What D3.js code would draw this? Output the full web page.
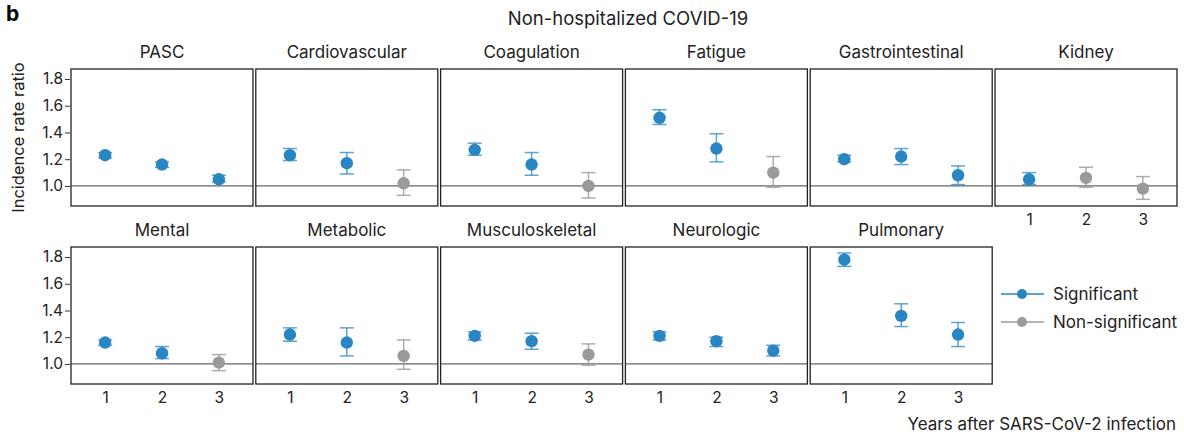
<!DOCTYPE html>
<html>
<head>
<meta charset="utf-8">
<script src="https://cdn.jsdelivr.net/npm/d3@7"></script>
<style>
  html, body { margin: 0; padding: 0; background: #fff; }
  svg { display: block; }
  text { font-family: Inter, "Noto Sans", sans-serif; fill: #222; }
</style>
</head>
<body>
<svg id="chart" width="1184" height="435"></svg>
<script>
const categories = ["PASC", "Cardiovascular", "Coagulation", "Fatigue", "Gastrointestinal", "Kidney",
                    "Mental", "Metabolic", "Musculoskeletal", "Neurologic", "Pulmonary"];
const years = [1, 2, 3];
const irr = [
  [1.23, 1.16, 1.05],
  [1.23, 1.17, 1.02],
  [1.27, 1.16, 1.00],
  [1.51, 1.28, 1.10],
  [1.20, 1.22, 1.08],
  [1.05, 1.06, 0.98],
  [1.16, 1.08, 1.01],
  [1.22, 1.16, 1.06],
  [1.21, 1.17, 1.07],
  [1.21, 1.17, 1.10],
  [1.78, 1.36, 1.22]
];
const lower = [
  [1.21, 1.14, 1.03],
  [1.19, 1.09, 0.93],
  [1.23, 1.08, 0.91],
  [1.46, 1.18, 0.99],
  [1.18, 1.16, 1.01],
  [1.01, 0.99, 0.90],
  [1.14, 1.04, 0.95],
  [1.17, 1.06, 0.96],
  [1.18, 1.11, 0.99],
  [1.18, 1.13, 1.06],
  [1.73, 1.28, 1.13]
];
const upper = [
  [1.25, 1.18, 1.08],
  [1.28, 1.25, 1.12],
  [1.32, 1.25, 1.10],
  [1.57, 1.39, 1.22],
  [1.23, 1.28, 1.15],
  [1.10, 1.14, 1.07],
  [1.18, 1.13, 1.07],
  [1.27, 1.27, 1.18],
  [1.24, 1.23, 1.15],
  [1.24, 1.20, 1.14],
  [1.83, 1.45, 1.31]
];
const significant = [
  [true, true, true],
  [true, true, false],
  [true, true, false],
  [true, true, false],
  [true, true, true],
  [true, false, false],
  [true, true, false],
  [true, true, false],
  [true, true, false],
  [true, true, true],
  [true, true, true]
];
const yTicks = [1.0, 1.2, 1.4, 1.6, 1.8];
const legendLabels = ["Significant", "Non-significant"];

const BLUE = "#2a86c2", GRAY = "#9a9a9a";
const FONT = "Inter, 'Noto Sans', sans-serif";
const svg = d3.select("#chart");

const panelW = 182, panelH = 137;
const colX = i => 71 + i * 184.8;
const rowY = [69, 247];

const x = d3.scaleLinear().domain([0.4, 3.6]).range([0, panelW]);
const y = d3.scaleLinear().domain([0.85, 1.875]).range([panelH, 0]);

// Panel label "b"
svg.append("text").attr("x", 6).attr("y", 21).text("b")
  .style("font-weight", "bold").style("font-size", "21px").style("fill", "#000");

// Overall title
svg.append("text").attr("x", 628).attr("y", 25).attr("text-anchor", "middle")
  .style("font-size", "18.5px").text("Non-hospitalized COVID-19");

categories.forEach((cat, ci) => {
  const row = ci < 6 ? 0 : 1;
  const col = ci < 6 ? ci : ci - 6;
  const g = svg.append("g").attr("transform", `translate(${colX(col)},${rowY[row]})`);

  // title
  g.append("text").attr("x", panelW / 2).attr("y", -11).attr("text-anchor", "middle")
    .style("font-size", "17px").text(cat);

  // reference line at 1
  g.append("line").attr("x1", 0).attr("x2", panelW).attr("y1", y(1)).attr("y2", y(1))
    .attr("stroke", "#666").attr("stroke-width", 1.2);

  const pts = years.map((yr, k) => ({
    yr, v: irr[ci][k], lo: lower[ci][k], hi: upper[ci][k], sig: significant[ci][k]
  }));

  // error bars
  const eb = g.selectAll("g.eb").data(pts).enter().append("g")
    .attr("stroke", d => d.sig ? BLUE : GRAY)
    .attr("stroke-opacity", d => d.sig ? 0.75 : 0.8)
    .attr("stroke-width", 1.5);
  eb.append("line").attr("x1", d => x(d.yr)).attr("x2", d => x(d.yr))
    .attr("y1", d => y(d.lo)).attr("y2", d => y(d.hi));
  eb.append("line").attr("x1", d => x(d.yr) - 7).attr("x2", d => x(d.yr) + 7)
    .attr("y1", d => y(d.lo)).attr("y2", d => y(d.lo));
  eb.append("line").attr("x1", d => x(d.yr) - 7).attr("x2", d => x(d.yr) + 7)
    .attr("y1", d => y(d.hi)).attr("y2", d => y(d.hi));

  // points
  g.selectAll("circle.pt").data(pts).enter().append("circle")
    .attr("cx", d => x(d.yr)).attr("cy", d => y(d.v)).attr("r", 6.2)
    .attr("fill", d => d.sig ? BLUE : GRAY);

  // border
  g.append("rect").attr("x", 0).attr("y", 0).attr("width", panelW).attr("height", panelH)
    .attr("fill", "none").attr("stroke", "#222").attr("stroke-width", 1.3);

  // y axis on first column
  if (col === 0) {
    const ax = g.append("g").call(d3.axisLeft(y).tickValues(yTicks).tickSize(5).tickPadding(3)
      .tickFormat(d3.format(".1f")));
    ax.select(".domain").remove();
    ax.selectAll("line").attr("stroke", "#333").attr("transform", "translate(-1,0)");
    ax.selectAll("text").style("font-size", "15.5px").style("fill", "#222").style("font-family", FONT);
  }
  // x axis on bottom row and Kidney
  if (row === 1 || ci === 5) {
    const ax = g.append("g").attr("transform", `translate(0,${panelH})`)
      .call(d3.axisBottom(x).tickValues(years).tickSize(0).tickPadding(8).tickFormat(d3.format("d")));
    ax.select(".domain").remove();
    ax.selectAll("text").style("font-size", "15.5px").style("fill", "#222").style("font-family", FONT);
  }
});

// y label
svg.append("text").attr("transform", `translate(24,${rowY[0] + panelH / 2}) rotate(-90)`)
  .attr("text-anchor", "middle").style("font-size", "16.5px").text("Incidence rate ratio");

// x label
svg.append("text").attr("x", 1176).attr("y", 430).attr("text-anchor", "end")
  .style("font-size", "17px").text("Years after SARS-CoV-2 infection");

// legend
const lg = svg.append("g");
legendLabels.forEach((lab, i) => {
  const cy = 294 + i * 28;
  const c = i === 0 ? BLUE : GRAY;
  lg.append("line").attr("x1", 1001).attr("x2", 1044).attr("y1", cy).attr("y2", cy)
    .attr("stroke", c).attr("stroke-width", 1.5);
  lg.append("circle").attr("cx", 1022).attr("cy", cy).attr("r", 5).attr("fill", c);
  lg.append("text").attr("x", 1053).attr("y", cy).attr("dy", "0.35em")
    .style("font-size", "17px").text(lab);
});
</script>
</body>
</html>
